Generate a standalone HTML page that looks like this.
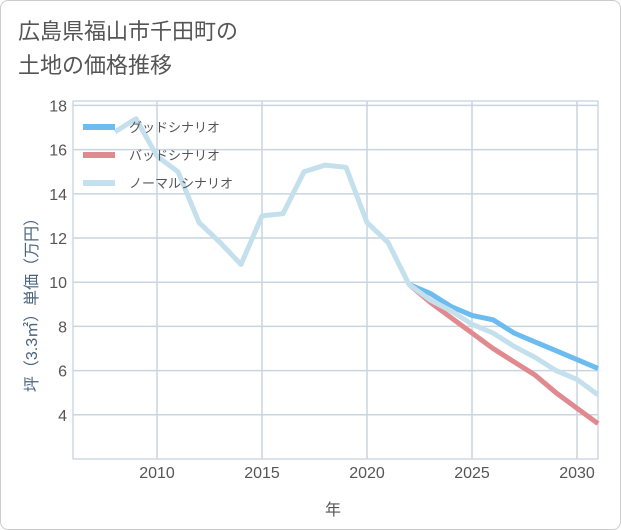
<!DOCTYPE html>
<html><head><meta charset="utf-8"><style>
body{margin:0;background:#fff;font-family:"Liberation Sans","Noto Sans CJK JP",sans-serif;}
#wrap{position:relative;width:619px;height:528px;border:1px solid #ccc;border-radius:8px;overflow:hidden;}
#title{position:absolute;left:17px;top:14px;font-size:22px;line-height:34px;color:#555;}
svg{position:absolute;left:0;top:0;}
</style></head><body>
<div id="wrap">
<div id="title">広島県福山市千田町の<br>土地の価格推移</div>
<svg id="chart" width="621" height="530"></svg>
</div>
<script>
const xTicks=[2010,2015,2020,2025,2030];
const yTicks=[4,6,8,10,12,14,16,18];
const normalYears=[2008,2009,2010,2011,2012,2013,2014,2015,2016,2017,2018,2019,2020,2021,2022,2023,2024,2025,2026,2027,2028,2029,2030,2031];
const normalValues=[16.8,17.4,15.7,15.0,12.7,11.8,10.8,13.0,13.1,15.0,15.3,15.2,12.7,11.8,9.9,9.2,8.7,8.1,7.7,7.1,6.6,6.0,5.6,4.9];
const forecastYears=[2022,2023,2024,2025,2026,2027,2028,2029,2030,2031];
const goodValues=[9.9,9.5,8.9,8.5,8.3,7.7,7.3,6.9,6.5,6.1];
const badValues=[9.9,9.1,8.4,7.7,7.0,6.4,5.8,5.0,4.3,3.6];
const legendLabels=["グッドシナリオ","バッドシナリオ","ノーマルシナリオ"];
const NS="http://www.w3.org/2000/svg";
const svg=document.getElementById('chart');
const L=72,R=597,T=100,B=458,X0=2006,X1=2031,Y0=2,Y1=18.2;
const sx=v=>L+(v-X0)/(X1-X0)*(R-L);
const sy=v=>B-(v-Y0)/(Y1-Y0)*(B-T);
function mk(tag,attrs){const e=document.createElementNS(NS,tag);for(const k in attrs)e.setAttribute(k,attrs[k]);svg.appendChild(e);return e;}
let e=mk('rect',{x:L,y:T,width:R-L,height:B-T,fill:'none',stroke:'#b8c6d4'});


xTicks.forEach(t=>{
 let g=mk('line',{x1:sx(t),x2:sx(t),y1:T,y2:B,stroke:'#c8d4e0','stroke-width':1.5});
 
 
 let l=mk('text',{x:sx(t),y:477,'text-anchor':'middle','font-size':16,fill:'#555'});l.textContent=t;
 
 
});
yTicks.forEach(t=>{
 let g=mk('line',{x1:L,x2:R,y1:sy(t),y2:sy(t),stroke:'#c8d4e0','stroke-width':1.5});
 
 
 let l=mk('text',{x:66,y:sy(t)+6,'text-anchor':'end','font-size':16,fill:'#555'});l.textContent=t;
 
 
});
function line(xs,ys,color,name){
 const p=xs.map((x,i)=>(i?'L':'M')+sx(x).toFixed(1)+','+sy(ys[i]).toFixed(1)).join('');
 const el=mk('path',{d:p,fill:'none',stroke:color,'stroke-width':5,'stroke-linejoin':'round'});
 
 
}
line(forecastYears,goodValues,'#6cbcf0','good-scenario-line');
line(forecastYears,badValues,'#e08a90','bad-scenario-line');
line(normalYears,normalValues,'#c4e0ec','normal-scenario-line');
const lc=['#6cbcf0','#e08a90','#c4e0ec'];
legendLabels.forEach((s,i)=>{
 const y=126+i*28;
 let ln=mk('line',{x1:82,x2:114,y1:y,y2:y,stroke:lc[i],'stroke-width':6});
 
 
 let t=mk('text',{x:128,y:y+5,'font-size':13,fill:'#555'});t.textContent=s;
 
 
});
let xt=mk('text',{x:332,y:514,'text-anchor':'middle','font-size':16,fill:'#555'});xt.textContent='年';


let yt=mk('text',{x:0,y:0,'text-anchor':'middle','font-size':16,fill:'#4a6580',transform:'translate(36,300) rotate(-90)'});yt.textContent='坪（3.3㎡）単価（万円）';


</script>
</body></html>
